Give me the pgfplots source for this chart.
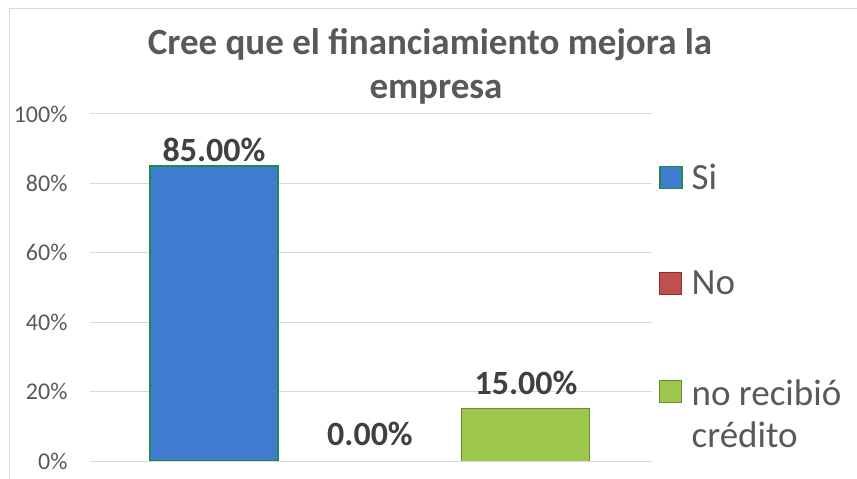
\documentclass[border=0pt]{standalone}
\usepackage{fontspec}
\usepackage{amsmath}
\usepackage{pgfplots}
\pgfplotsset{compat=1.18}
\setmainfont{Carlito}

\definecolor{txt}{HTML}{595959}
\definecolor{lbl}{HTML}{404040}
\definecolor{grd}{HTML}{D9D9D9}
\definecolor{siFill}{HTML}{3F7CCF}
\definecolor{siEdge}{HTML}{1F8A4C}
\definecolor{noFill}{HTML}{C0504D}
\definecolor{noEdge}{HTML}{8B2E2C}
\definecolor{nrFill}{HTML}{9DC74C}
\definecolor{nrEdge}{HTML}{6E8B2F}

\begin{document}
\begin{tikzpicture}
\useasboundingbox (0,0) rectangle (857bp,479bp);
% outer chart border (only left and top edges are visible)
\draw[grd, line width=1bp] (9bp,0) -- (9bp,470bp) -- (857bp,470bp);

% title
\node[anchor=base, text=txt, font=\fontsize{37bp}{42bp}\selectfont\bfseries]
  at (430bp,424bp) {Cree que el financiamiento mejora la};
\node[anchor=base, text=txt, font=\fontsize{37bp}{42bp}\selectfont\bfseries]
  at (436bp,380bp) {empresa};

\begin{axis}[
    at={(90bp,18bp)}, anchor=south west,
    scale only axis,
    width=562bp, height=347bp,
    xmin=-0.795, xmax=2.808,
    ymin=0, ymax=100,
    ytick={0,20,...,100},
    xtick=\empty,
    ymajorgrids,
    grid style={grd, line width=1bp},
    axis line style={draw=none},
    major tick length=0pt,
    yticklabel={\pgfmathprintnumber{\tick}\%},
    yticklabel style={text=txt, font=\fontsize{24bp}{27bp}\selectfont, xshift=-19bp},
    /pgf/number format/assume math mode=true,
    ybar, bar width=128bp,
    legend image code/.code={\draw[#1] (0bp,-11bp) rectangle (22bp,11bp);},
    legend cell align=left,
    legend style={at={(1,1)}, anchor=north west, xshift=4bp, yshift=-46bp,
        draw=none, fill=none, text=txt,
        font=\fontsize{37bp}{42bp}\selectfont,
        row sep=76bp, column sep=7bp},
    nodes near coords={\pgfmathprintnumber[fixed, fixed zerofill, precision=2]{\pgfplotspointmeta}\%},
    every node near coord/.append style={text=lbl,
        font=\fontsize{34bp}{40bp}\selectfont\bfseries, anchor=base},
]
\addplot[bar shift=0pt, fill=siFill, draw=siEdge, line width=1.5bp,
    every node near coord/.append style={yshift=5bp}]
    coordinates {(0,85)};
\addlegendentry{Si}
\addplot[bar shift=0pt, fill=noFill, draw=none,
    legend image post style={draw=noEdge, line width=1bp},
    every node near coord/.append style={yshift=16bp}]
    coordinates {(1,0)};
\addlegendentry{No}
\addplot[bar shift=0pt, fill=nrFill, draw=nrEdge, line width=1bp,
    every node near coord/.append style={yshift=14bp}]
    coordinates {(2,15)};
\addlegendentry{\smash[b]{\begin{tabular}[t]{@{}l@{}}no recibió\\crédito\end{tabular}}}
\end{axis}
\end{tikzpicture}
\end{document}
